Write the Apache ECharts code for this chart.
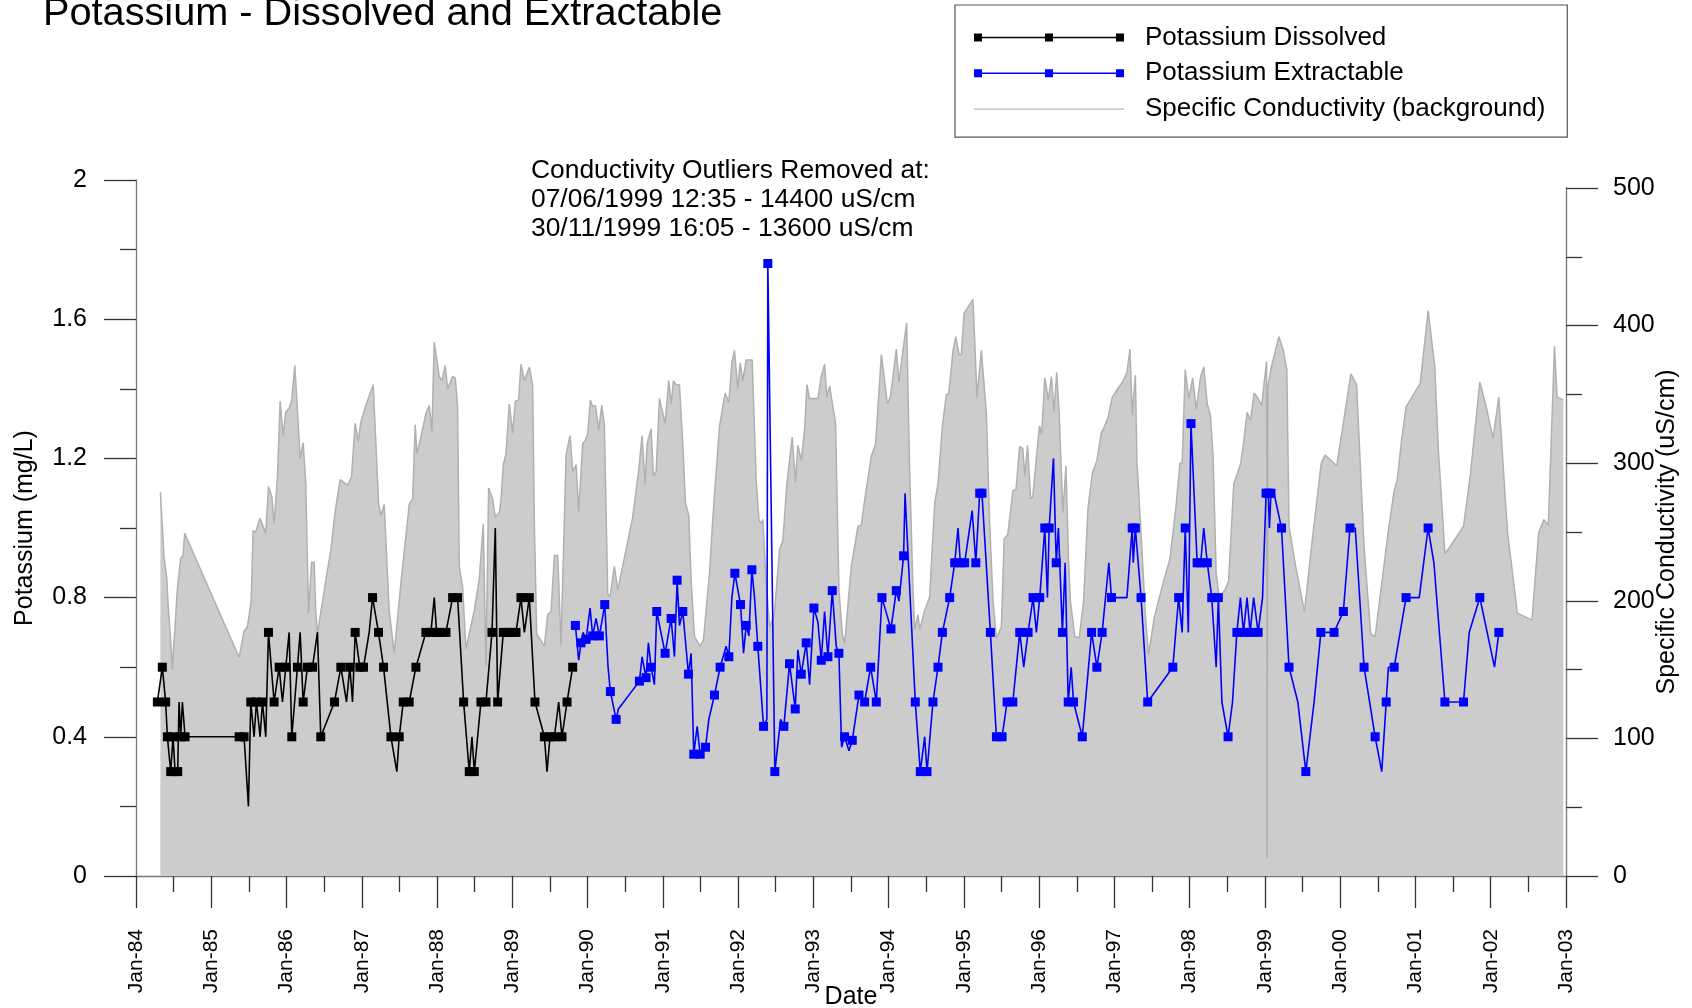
<!DOCTYPE html>
<html>
<head>
<meta charset="utf-8">
<script src="https://cdn.jsdelivr.net/npm/echarts@6/dist/echarts.min.js"></script>
<style>
html,body{margin:0;padding:0;background:#ffffff;}
#chart{width:1692px;height:1008px;}
</style>
</head>
<body>
<div id="chart"></div>
<script>
const FONT = '"Liberation Sans", Arial, Helvetica, sans-serif';

// x tick labels (one per January, 1984..2003)
const xTickLabels = ['Jan-84','Jan-85','Jan-86','Jan-87','Jan-88','Jan-89','Jan-90','Jan-91','Jan-92','Jan-93',
  'Jan-94','Jan-95','Jan-96','Jan-97','Jan-98','Jan-99','Jan-00','Jan-01','Jan-02','Jan-03'];

// Potassium Dissolved: [decimal year, mg/L, marker shown (1/0)]
const dissolved = [
[1984.284,0.5,1],[1984.350,0.6,1],[1984.394,0.5,1],[1984.417,0.4,1],[1984.461,0.3,1],[1984.492,0.4,1],[1984.519,0.3,1],[1984.554,0.3,1],[1984.572,0.5,0],[1984.594,0.4,1],[1984.616,0.5,0],[1984.652,0.4,1],
[1985.370,0.4,1],[1985.436,0.4,1],[1985.494,0.2,0],[1985.525,0.5,1],[1985.569,0.4,0],[1985.600,0.5,1],[1985.649,0.4,0],[1985.680,0.5,1],[1985.724,0.4,0],[1985.760,0.7,1],[1985.835,0.5,1],[1985.902,0.6,1],[1985.946,0.5,0],[1985.990,0.6,1],
[1986.035,0.7,0],[1986.070,0.4,1],[1986.145,0.6,1],[1986.181,0.7,0],[1986.221,0.5,1],[1986.278,0.6,1],[1986.345,0.6,1],[1986.411,0.7,0],[1986.455,0.4,1],[1986.637,0.5,1],[1986.722,0.6,1],[1986.797,0.5,0],[1986.841,0.6,1],[1986.877,0.5,0],[1986.912,0.7,1],[1986.974,0.6,1],
[1987.023,0.6,1],[1987.098,0.7,0],[1987.143,0.8,1],[1987.222,0.7,1],[1987.289,0.6,1],[1987.387,0.4,1],[1987.466,0.3,0],[1987.497,0.4,1],[1987.551,0.5,1],[1987.630,0.5,1],[1987.719,0.6,1],[1987.852,0.7,1],[1987.918,0.7,1],[1987.963,0.8,0],[1987.994,0.7,1],
[1988.051,0.7,1],[1988.118,0.7,1],[1988.207,0.8,1],[1988.273,0.8,1],[1988.353,0.5,1],[1988.428,0.3,1],[1988.464,0.4,0],[1988.495,0.3,1],[1988.583,0.5,1],[1988.650,0.5,1],[1988.730,0.7,1],[1988.774,1.0,0],[1988.805,0.5,1],[1988.880,0.7,1],[1988.938,0.7,1],
[1989.004,0.7,1],[1989.049,0.7,1],[1989.115,0.8,1],[1989.160,0.7,0],[1989.226,0.8,1],[1989.301,0.5,1],[1989.426,0.4,1],[1989.461,0.3,0],[1989.501,0.4,1],[1989.559,0.4,1],[1989.616,0.5,0],[1989.660,0.4,1],[1989.727,0.5,1],[1989.802,0.6,1]
];

// Potassium Extractable: [decimal year, mg/L, marker shown (1/0)]
const extractable = [
[1989.838,0.72,1],[1989.882,0.62,0],[1989.913,0.67,1],[1989.940,0.70,0],[1989.980,0.68,1],[1990.033,0.77,0],[1990.068,0.69,1],[1990.113,0.74,0],[1990.157,0.69,1],[1990.228,0.78,1],[1990.272,0.60,0],[1990.303,0.53,1],[1990.379,0.45,1],[1990.410,0.48,0],
[1990.689,0.56,1],[1990.724,0.63,0],[1990.777,0.57,1],[1990.808,0.67,0],[1990.844,0.60,1],[1990.888,0.55,0],[1990.919,0.76,1],[1991.030,0.64,1],[1991.110,0.74,1],[1991.154,0.63,0],[1991.190,0.85,1],[1991.221,0.72,0],[1991.265,0.76,1],
[1991.340,0.58,1],[1991.376,0.64,0],[1991.411,0.35,1],[1991.456,0.43,0],[1991.496,0.35,1],[1991.567,0.37,1],[1991.611,0.45,0],[1991.686,0.52,1],[1991.761,0.60,1],[1991.841,0.66,0],[1991.877,0.63,1],[1991.917,0.80,0],[1991.957,0.87,1],
[1992.032,0.78,1],[1992.072,0.64,0],[1992.107,0.72,1],[1992.143,0.69,0],[1992.183,0.88,1],[1992.218,0.80,0],[1992.262,0.66,1],[1992.338,0.43,1],[1992.382,0.45,0],[1992.395,1.76,1],[1992.488,0.30,1],[1992.565,0.45,0],[1992.608,0.43,1],
[1992.683,0.61,1],[1992.759,0.48,1],[1992.794,0.65,0],[1992.839,0.58,1],[1992.905,0.67,1],[1992.950,0.55,0],[1993.007,0.77,1],[1993.060,0.73,0],[1993.105,0.62,1],[1993.149,0.76,0],[1993.193,0.63,1],[1993.251,0.82,1],[1993.304,0.66,0],
[1993.339,0.64,1],[1993.375,0.37,0],[1993.415,0.40,1],[1993.473,0.36,0],[1993.517,0.39,1],[1993.606,0.52,1],[1993.681,0.50,1],[1993.761,0.60,1],[1993.836,0.50,1],[1993.911,0.80,1],[1994.031,0.71,1],[1994.102,0.82,1],[1994.137,0.79,0],
[1994.199,0.92,1],[1994.218,1.10,0],[1994.354,0.50,1],[1994.421,0.30,1],[1994.479,0.40,0],[1994.510,0.30,1],[1994.589,0.50,1],[1994.656,0.60,1],[1994.714,0.70,1],[1994.811,0.80,1],[1994.878,0.90,1],[1994.922,1.00,0],[1994.953,0.90,1],
[1995.010,0.90,1],[1995.110,1.05,0],[1995.158,0.90,1],[1995.210,1.10,1],[1995.240,1.10,1],[1995.352,0.70,1],[1995.432,0.40,1],[1995.507,0.40,1],[1995.574,0.50,1],[1995.650,0.50,1],[1995.742,0.70,1],[1995.795,0.60,0],[1995.853,0.70,1],
[1995.919,0.80,1],[1995.963,0.70,0],[1996.008,0.80,1],[1996.075,1.00,1],[1996.110,0.80,0],[1996.133,1.00,1],[1996.190,1.20,0],[1996.227,0.90,1],[1996.256,1.00,0],[1996.309,0.70,1],[1996.345,0.90,0],[1996.386,0.50,1],[1996.426,0.60,0],
[1996.456,0.50,1],[1996.573,0.40,1],[1996.697,0.70,1],[1996.767,0.60,1],[1996.837,0.70,1],[1996.926,0.90,0],[1996.961,0.80,1],[1997.166,0.80,0],[1997.236,1.00,1],[1997.250,0.90,0],[1997.278,1.00,1],[1997.354,0.80,1],[1997.442,0.50,1],
[1997.776,0.60,1],[1997.853,0.80,1],[1997.900,0.70,0],[1997.941,1.00,1],[1997.982,0.70,0],[1998.017,1.30,1],[1998.099,0.90,1],[1998.146,0.90,1],[1998.187,1.00,0],[1998.234,0.90,1],[1998.293,0.80,1],[1998.352,0.60,0],[1998.381,0.80,1],
[1998.428,0.50,0],[1998.510,0.40,1],[1998.569,0.50,0],[1998.627,0.70,1],[1998.674,0.80,0],[1998.715,0.70,1],[1998.762,0.80,0],[1998.803,0.70,1],[1998.850,0.80,0],[1998.909,0.70,1],[1998.968,0.80,0],[1999.015,1.10,1],[1999.045,1.10,1],
[1999.060,1.00,0],[1999.080,1.10,1],[1999.120,1.10,0],[1999.220,1.00,1],[1999.320,0.60,1],[1999.437,0.50,0],[1999.543,0.30,1],[1999.653,0.50,0],[1999.743,0.70,1],[1999.918,0.70,1],[2000.042,0.76,1],[2000.130,1.00,1],[2000.200,1.00,0],
[2000.317,0.60,1],[2000.464,0.40,1],[2000.552,0.30,0],[2000.611,0.50,1],[2000.640,0.60,0],[2000.717,0.60,1],[2000.875,0.80,1],[2001.050,0.80,0],[2001.168,1.00,1],[2001.245,0.90,0],[2001.391,0.50,1],[2001.638,0.50,1],[2001.714,0.70,0],
[2001.855,0.80,1],[2002.050,0.60,0],[2002.108,0.70,1]
];

// Specific Conductivity (background): [decimal year, uS/cm]
const conductivity = [
[1984.324,279],[1984.350,280],[1984.372,232],[1984.394,231],[1984.408,217],[1984.426,198],[1984.461,171],[1984.483,150],[1984.505,171],[1984.519,181],[1984.536,182],[1984.550,209],[1984.572,208],[1984.594,231],[1984.625,233],[1984.647,249],
[1985.370,159],[1985.436,178],[1985.480,181],[1985.530,200],[1985.556,251],[1985.591,250],[1985.649,260],[1985.724,249],[1985.760,283],[1985.804,276],[1985.835,256],[1985.879,290],[1985.915,345],[1985.955,320],[1985.990,337],
[1986.035,340],[1986.070,346],[1986.110,371],[1986.145,339],[1986.181,303],[1986.221,315],[1986.256,285],[1986.292,191],[1986.332,228],[1986.367,228],[1986.389,191],[1986.411,176],[1986.522,215],[1986.589,237],[1986.646,265],[1986.713,288],[1986.810,284],[1986.863,290],[1986.912,329],[1986.952,316],[1986.988,330],
[1987.054,342],[1987.152,357],[1987.223,271],[1987.254,262],[1987.298,270],[1987.364,193],[1987.431,162],[1987.520,213],[1987.630,270],[1987.675,274],[1987.710,328],[1987.732,307],[1987.785,319],[1987.852,336],[1987.896,342],[1987.932,323],[1987.963,388],
[1988.029,363],[1988.065,360],[1988.109,371],[1988.140,354],[1988.207,363],[1988.242,362],[1988.273,341],[1988.295,225],[1988.340,210],[1988.384,165],[1988.419,174],[1988.495,193],[1988.561,216],[1988.614,256],[1988.650,152],[1988.685,282],[1988.738,274],[1988.774,261],[1988.827,264],[1988.849,273],[1988.880,299],[1988.916,307],[1988.960,343],
[1989.004,322],[1989.040,345],[1989.084,346],[1989.115,372],[1989.160,360],[1989.226,370],[1989.270,357],[1989.293,256],[1989.324,176],[1989.381,171],[1989.426,167],[1989.470,190],[1989.514,192],[1989.559,233],[1989.603,233],[1989.647,168],[1989.714,306],[1989.767,320],[1989.802,294],[1989.847,299],[1989.882,265],[1989.935,314],[1989.971,317],
[1990.002,321],[1990.037,346],[1990.068,341],[1990.104,342],[1990.148,324],[1990.188,342],[1990.223,328],[1990.268,205],[1990.299,203],[1990.356,225],[1990.401,208],[1990.511,237],[1990.600,261],[1990.680,295],[1990.724,320],[1990.764,285],[1990.791,314],[1990.844,325],[1990.875,291],[1990.911,294],[1990.955,347],
[1991.030,329],[1991.079,360],[1991.110,343],[1991.141,360],[1991.176,357],[1991.221,357],[1991.265,314],[1991.301,271],[1991.345,262],[1991.376,215],[1991.420,174],[1991.496,167],[1991.540,172],[1991.620,220],[1991.664,260],[1991.753,327],[1991.797,341],[1991.828,351],[1991.877,344],[1991.917,373],[1991.952,382],[1991.996,354],
[1992.027,373],[1992.063,360],[1992.107,375],[1992.187,375],[1992.240,288],[1992.276,259],[1992.307,256],[1992.329,259],[1992.370,215],[1992.420,181],[1992.480,190],[1992.551,237],[1992.595,244],[1992.648,285],[1992.719,319],[1992.763,286],[1992.794,313],[1992.839,302],[1992.883,324],[1992.914,357],[1992.950,347],
[1993.060,347],[1993.105,363],[1993.149,372],[1993.180,348],[1993.216,356],[1993.295,329],[1993.340,208],[1993.384,176],[1993.415,169],[1993.504,225],[1993.592,254],[1993.636,255],[1993.694,278],[1993.770,305],[1993.827,314],[1993.903,379],[1993.925,370],[1993.983,343],
[1994.022,348],[1994.058,363],[1994.102,383],[1994.137,359],[1994.169,373],[1994.239,402],[1994.279,295],[1994.324,208],[1994.346,179],[1994.390,190],[1994.412,179],[1994.479,193],[1994.545,203],[1994.612,271],[1994.656,285],[1994.714,327],[1994.767,350],[1994.798,350],[1994.856,382],[1994.891,392],[1994.936,379],[1994.966,379],
[1995.002,409],[1995.121,419],[1995.174,348],[1995.232,382],[1995.299,336],[1995.340,260],[1995.387,200],[1995.432,173],[1995.498,181],[1995.535,245],[1995.582,248],[1995.652,280],[1995.693,281],[1995.740,312],[1995.781,311],[1995.810,291],[1995.846,313],[1995.887,274],[1995.916,276],[1995.957,300],
[1996.004,327],[1996.034,321],[1996.075,362],[1996.122,346],[1996.163,363],[1996.198,337],[1996.233,366],[1996.268,334],[1996.315,264],[1996.356,298],[1996.390,230],[1996.415,200],[1996.474,174],[1996.532,173],[1996.591,200],[1996.650,268],[1996.708,293],[1996.767,302],[1996.826,322],[1996.855,325],[1996.914,333],[1996.972,348],
[1997.031,353],[1997.107,359],[1997.166,366],[1997.207,383],[1997.237,335],[1997.278,364],[1997.300,300],[1997.354,249],[1997.413,188],[1997.454,161],[1997.530,188],[1997.647,213],[1997.736,230],[1997.823,271],[1997.870,300],[1997.900,300],[1997.941,368],[1997.988,347],
[1998.040,362],[1998.087,339],[1998.146,363],[1998.187,370],[1998.234,343],[1998.275,335],[1998.311,305],[1998.352,220],[1998.393,202],[1998.469,208],[1998.516,214],[1998.586,285],[1998.674,299],[1998.715,314],[1998.762,337],[1998.809,331],[1998.856,351],[1998.909,347],[1998.956,342],
[1999.022,374],[1999.030,13],[1999.038,355],[1999.085,370],[1999.185,392],[1999.244,382],[1999.291,368],[1999.320,254],[1999.408,225],[1999.525,192],[1999.620,240],[1999.748,300],[1999.801,306],[1999.880,302],[1999.954,298],
[2000.142,365],[2000.218,357],[2000.317,239],[2000.405,176],[2000.464,174],[2000.523,200],[2000.640,251],[2000.717,280],[2000.758,288],[2000.816,317],[2000.875,341],
[2001.063,358],[2001.169,411],[2001.257,370],[2001.304,310],[2001.392,234],[2001.638,254],[2001.726,290],[2001.855,359],[2001.931,343],
[2002.031,318],[2002.107,348],[2002.166,297],[2002.225,249],[2002.354,191],[2002.548,186],[2002.636,249],[2002.706,259],[2002.765,255],[2002.847,385],[2002.882,348],[2002.964,346]
];

const annotationLines = [
  'Conductivity Outliers Removed at:',
  '07/06/1999 12:35 - 14400 uS/cm',
  '30/11/1999 16:05 - 13600 uS/cm'
];

const ICON_MARKED = 'path://M0,0h8v8h-8zM71,0h8v8h-8zM142,0h8v8h-8zM4,3.25h142v1.5h-142z';
const ICON_PLAIN = 'path://M0,0M150,8M0,3.4h150v1.2h-150z';

const markerSize = function (val) { return val[2] ? 9 : 0; };

const axisLineStyle = { color: '#777777', width: 1.3 };
const tickStyle = { color: '#333333', width: 1.3 };

const chart = echarts.init(document.getElementById('chart'));
chart.setOption({
  animation: false,
  backgroundColor: '#ffffff',
  textStyle: { fontFamily: FONT },
  title: [
    {
      text: 'Potassium - Dissolved and Extractable',
      left: 43, top: -6, padding: 0,
      textStyle: { fontFamily: FONT, fontSize: 39.7, fontWeight: 'normal', color: '#000000', lineHeight: 40 }
    },
    {
      text: annotationLines.join('\n'),
      left: 531, top: 156, padding: 0,
      textStyle: { fontFamily: FONT, fontSize: 26.4, fontWeight: 'normal', color: '#000000', lineHeight: 29 }
    }
  ],
  legend: {
    orient: 'vertical',
    left: 955, top: 5,
    padding: [18.5, 22, 14, 19],
    itemGap: 7.8,
    itemWidth: 150, itemHeight: 8,
    borderColor: '#555555', borderWidth: 1.2,
    selectedMode: false,
    itemStyle: { borderWidth: 0 },
    textStyle: { fontFamily: FONT, fontSize: 26, color: '#000000', lineHeight: 28, padding: [0, 0, 0, 16] },
    data: [
      { name: 'Potassium Dissolved', icon: ICON_MARKED },
      { name: 'Potassium Extractable', icon: ICON_MARKED },
      { name: 'Specific Conductivity (background)', icon: ICON_PLAIN }
    ]
  },
  grid: [
    { left: 136, right: 126, top: 180, bottom: 132, containLabel: false, outerBoundsMode: 'none' },
    { left: 136, right: 126, top: 188, bottom: 132, containLabel: false, outerBoundsMode: 'none' }
  ],
  xAxis: [
    {
      type: 'value', gridIndex: 0, min: 1984, max: 2003, interval: 1,
      name: 'Date', nameLocation: 'middle', nameGap: 109, nameMoveOverlap: false,
      nameTextStyle: { fontFamily: FONT, fontSize: 25, color: '#000000' },
      axisLine: { show: true, onZero: false, lineStyle: axisLineStyle },
      axisTick: { show: true, length: 32, lineStyle: tickStyle },
      minorTick: { show: true, splitNumber: 2, length: 16, lineStyle: tickStyle },
      splitLine: { show: false },
      axisLabel: {
        rotate: 90, margin: 53, fontSize: 21, color: '#000000', fontFamily: FONT,
        formatter: function (v) { return xTickLabels[Math.round(v - 1984)]; }
      }
    },
    {
      type: 'value', gridIndex: 1, min: 1984, max: 2003, show: false
    }
  ],
  yAxis: [
    {
      type: 'value', gridIndex: 0, position: 'left', min: 0, max: 2, interval: 0.4,
      name: 'Potassium (mg/L)', nameLocation: 'middle', nameGap: 98, nameRotate: 90, nameMoveOverlap: false,
      nameTextStyle: { fontFamily: FONT, fontSize: 25, color: '#000000' },
      axisLine: { show: true, lineStyle: axisLineStyle },
      axisTick: { show: true, length: 32, lineStyle: tickStyle },
      minorTick: { show: true, splitNumber: 2, length: 16, lineStyle: tickStyle },
      splitLine: { show: false },
      axisLabel: { margin: 49, fontSize: 25, color: '#000000', fontFamily: FONT }
    },
    {
      type: 'value', gridIndex: 1, position: 'right', min: 0, max: 500, interval: 100,
      name: 'Specific Conductivity (uS/cm)', nameLocation: 'middle', nameGap: 89, nameRotate: 90, nameMoveOverlap: false,
      nameTextStyle: { fontFamily: FONT, fontSize: 25, color: '#000000' },
      axisLine: { show: true, lineStyle: axisLineStyle },
      axisTick: { show: true, length: 32, lineStyle: tickStyle },
      minorTick: { show: true, splitNumber: 2, length: 16, lineStyle: tickStyle },
      splitLine: { show: false },
      axisLabel: { margin: 47, fontSize: 25, color: '#000000', fontFamily: FONT }
    }
  ],
  series: [
    {
      name: 'Specific Conductivity (background)',
      type: 'line', xAxisIndex: 1, yAxisIndex: 1,
      data: conductivity,
      symbol: 'none', showSymbol: false,
      color: '#b8b8b8',
      lineStyle: { color: '#b0b0b0', width: 1.5 },
      areaStyle: { color: '#cccccc', opacity: 1 },
      silent: true, z: 1
    },
    {
      name: 'Potassium Dissolved',
      type: 'line', xAxisIndex: 0, yAxisIndex: 0,
      data: dissolved,
      encode: { x: 0, y: 1 },
      symbol: 'rect', symbolSize: markerSize, showAllSymbol: true,
      color: '#000000',
      lineStyle: { color: '#000000', width: 1.6 },
      itemStyle: { color: '#000000' },
      silent: true, z: 3
    },
    {
      name: 'Potassium Extractable',
      type: 'line', xAxisIndex: 0, yAxisIndex: 0,
      data: extractable,
      encode: { x: 0, y: 1 },
      symbol: 'rect', symbolSize: markerSize, showAllSymbol: true,
      color: '#0000ff',
      lineStyle: { color: '#0000ff', width: 1.6 },
      itemStyle: { color: '#0000ff' },
      silent: true, z: 4
    }
  ]
});
</script>
</body>
</html>
